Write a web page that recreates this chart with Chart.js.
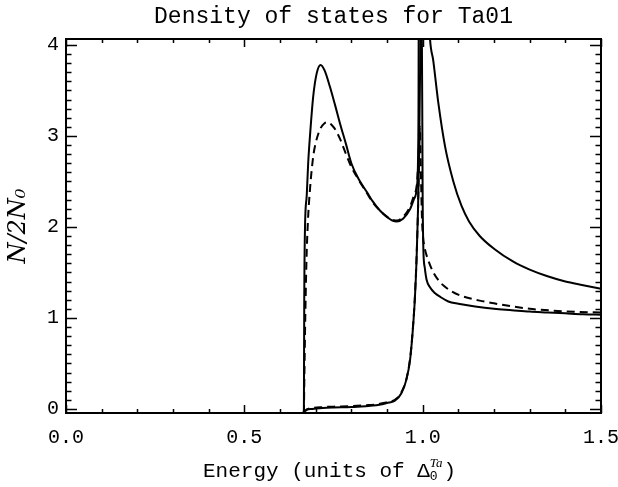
<!DOCTYPE html>
<html>
<head>
<meta charset="utf-8">
<script src="https://cdn.jsdelivr.net/npm/chart.js@4.4.1/dist/chart.umd.min.js"></script>
<style>
  html, body { margin: 0; padding: 0; background: #fff; }
  #wrap { width: 618px; height: 487px; }
</style>
</head>
<body>
<div id="wrap"><canvas id="dos" width="618" height="487"></canvas></div>
<script>
// energy in units of gap, N/2N0
const solidUpperE = [0.667, 0.668, 0.670, 0.675, 0.679, 0.685, 0.693, 0.703, 0.714, 0.725, 0.740, 0.755, 0.768, 0.785, 0.800, 0.820, 0.844, 0.860, 0.880, 0.900, 0.915, 0.928, 0.945, 0.964, 0.975, 0.984, 0.987, 0.9885, 0.989];
const solidUpperN = [-0.045, 1.2, 1.97, 2.35, 2.70, 3.05, 3.43, 3.69, 3.78, 3.72, 3.54, 3.33, 3.14, 2.91, 2.70, 2.53, 2.38, 2.28, 2.18, 2.11, 2.07, 2.06, 2.09, 2.19, 2.30, 2.45, 2.75, 3.5, 4.6];

const solidUpperRightE = [1.016, 1.020, 1.030, 1.044, 1.063, 1.086, 1.109, 1.130, 1.160, 1.200, 1.253, 1.300, 1.348, 1.400, 1.450, 1.500];
const solidUpperRightN = [4.5, 4.1, 3.82, 3.36, 2.88, 2.50, 2.23, 2.06, 1.90, 1.76, 1.62, 1.53, 1.46, 1.40, 1.36, 1.32];

const solidLowerE = [0.664, 0.675, 0.690, 0.720, 0.750, 0.800, 0.840, 0.870, 0.890, 0.905, 0.922, 0.940, 0.955, 0.965, 0.972, 0.978, 0.983, 0.987, 0.990, 0.993, 0.995, 0.997, 1.000, 1.002, 1.006, 1.011, 1.020, 1.035, 1.050, 1.072, 1.100, 1.147, 1.200, 1.250, 1.300, 1.350, 1.400, 1.450, 1.500];
const solidLowerN = [-0.045, -0.01, 0.0, 0.01, 0.015, 0.02, 0.03, 0.04, 0.055, 0.07, 0.09, 0.17, 0.33, 0.55, 0.85, 1.2, 1.65, 2.2, 2.8, 3.8, 4.6, 4.6, 2.3, 1.75, 1.55, 1.42, 1.34, 1.27, 1.23, 1.18, 1.155, 1.125, 1.10, 1.085, 1.07, 1.06, 1.05, 1.04, 1.035];

const dashedUpperE = [0.667, 0.670, 0.674, 0.678, 0.684, 0.693, 0.700, 0.712, 0.725, 0.735, 0.745, 0.755, 0.768, 0.785, 0.800, 0.820, 0.844, 0.860, 0.880, 0.900, 0.915, 0.928, 0.945, 0.964, 0.975, 0.984, 0.988, 0.991];
const dashedUpperN = [-0.045, 0.8, 1.6, 2.04, 2.41, 2.77, 2.92, 3.07, 3.14, 3.15, 3.12, 3.07, 2.97, 2.80, 2.66, 2.52, 2.37, 2.27, 2.18, 2.11, 2.08, 2.07, 2.11, 2.22, 2.34, 2.48, 2.75, 3.05];

const dashedLowerE = [0.664, 0.675, 0.690, 0.720, 0.750, 0.800, 0.840, 0.870, 0.890, 0.905, 0.922, 0.940, 0.955, 0.965, 0.972, 0.978, 0.983, 0.987, 0.990, 0.992, 0.995, 0.998, 1.001, 1.005, 1.015, 1.030, 1.043, 1.060, 1.082, 1.110, 1.160, 1.200, 1.253, 1.300, 1.365, 1.430, 1.500];
const dashedLowerN = [-0.045, -0.005, 0.01, 0.02, 0.025, 0.03, 0.04, 0.05, 0.065, 0.08, 0.10, 0.18, 0.34, 0.56, 0.86, 1.22, 1.68, 2.2, 2.8, 3.1, 2.6, 2.1, 1.89, 1.78, 1.64, 1.50, 1.42, 1.35, 1.29, 1.24, 1.19, 1.16, 1.125, 1.10, 1.08, 1.067, 1.06];

const xTickValues = [0, 0.5, 1.0, 1.5];
const xTickLabels = ["0.0", "0.5", "1.0", "1.5"];
const yTickValues = [0, 1, 2, 3, 4];
const yTickLabels = ["0", "1", "2", "3", "4"];

const pts = (xs, ys) => xs.map((e, i) => ({ x: e, y: ys[i] }));

const line = (xs, ys, dashed) => ({
  data: pts(xs, ys),
  borderColor: "#000",
  borderWidth: 2,
  borderDash: dashed ? [8, 5] : [],
  pointRadius: 0,
  cubicInterpolationMode: "monotone",
  fill: false,
  clip: 0,
});

// inward ticks on all four sides plus the box, IDL style
const frameTicks = {
  id: "frameTicks",
  afterDatasetsDraw(chart) {
    const { ctx, chartArea: a, scales: { x, y } } = chart;
    ctx.save();
    ctx.strokeStyle = "#000";
    ctx.lineWidth = 2;
    ctx.strokeRect(a.left, a.top, a.right - a.left, a.bottom - a.top);
    ctx.lineWidth = 1.5;
    ctx.beginPath();
    for (let i = 0; i <= 15; i++) {
      const px = Math.round(x.getPixelForValue(i / 10)) + 0.5;
      const len = i % 5 === 0 ? 8 : 4;
      ctx.moveTo(px, a.bottom); ctx.lineTo(px, a.bottom - len);
      ctx.moveTo(px, a.top); ctx.lineTo(px, a.top + len);
    }
    for (let i = 0; i <= 40; i++) {
      const py = Math.round(y.getPixelForValue(i / 10)) + 0.5;
      const len = i % 10 === 0 ? 11 : 5.5;
      ctx.moveTo(a.left, py); ctx.lineTo(a.left + len, py);
      ctx.moveTo(a.right, py); ctx.lineTo(a.right - len, py);
    }
    ctx.stroke();
    ctx.restore();
  },
  afterDraw(chart) {
    // x title with stacked sub/superscript on the Delta
    const { ctx, chartArea: a } = chart;
    ctx.save();
    ctx.fillStyle = "#000";
    ctx.textBaseline = "alphabetic";
    const mainFont = '21px "Liberation Mono"';
    const smallFont = '13px "Liberation Mono"';
    const supFont = 'italic 13px "Liberation Serif"';
    const mainText = "Energy (units of \u0394";
    ctx.font = mainFont;
    const wMain = ctx.measureText(mainText).width;
    const wParen = ctx.measureText(")").width;
    ctx.font = smallFont;
    const wSub = ctx.measureText("0").width;
    ctx.font = supFont;
    const wSup = ctx.measureText("Ta").width;
    const wMid = Math.max(wSub, wSup) + 1;
    const total = wMain + wMid + wParen;
    let x0 = (a.left + a.right) / 2 - total / 2 - 4;
    const base = 477;
    ctx.font = mainFont;
    ctx.fillText(mainText, x0, base);
    x0 += wMain;
    ctx.font = smallFont;
    ctx.fillText("0", x0, base + 3);
    ctx.font = supFont;
    ctx.fillText("Ta", x0, base - 10);
    x0 += wMid;
    ctx.font = mainFont;
    ctx.fillText(")", x0, base);
    ctx.restore();
  },
};

new Chart(document.getElementById("dos"), {
  type: "line",
  data: {
    datasets: [
      line(solidUpperE, solidUpperN, false),
      line(solidUpperRightE, solidUpperRightN, false),
      line(solidLowerE, solidLowerN, false),
      line(dashedUpperE, dashedUpperN, true),
      line(dashedLowerE, dashedLowerN, true),
    ],
  },
  options: {
    responsive: false,
    animation: false,
    devicePixelRatio: 1,
    events: [],
    layout: { padding: { left: 0, right: 17, top: 0, bottom: 0 } },
    plugins: {
      legend: { display: false },
      tooltip: { enabled: false },
      title: {
        display: true,
        fullSize: false,
        text: "Density of states for Ta01",
        color: "#000",
        font: { family: "Liberation Mono", size: 23, weight: "normal" },
        padding: { top: 3, bottom: 8.4 },
      },
    },
    scales: {
      x: {
        type: "linear",
        position: "bottom",
        min: 0,
        max: 1.5,
        grid: { display: false, drawTicks: false },
        border: { display: false },
        afterBuildTicks: (s) => { s.ticks = xTickValues.map((v) => ({ value: v })); },
        afterFit: (s) => { s.height = 74; s.paddingLeft = 0; s.paddingRight = 0; },
        ticks: {
          color: "#000",
          padding: 13,
          maxRotation: 0,
          font: { family: "Liberation Mono", size: 20 },
          callback: (v, i) => xTickLabels[i],
        },
      },
      y: {
        type: "linear",
        position: "left",
        min: -0.045,
        max: 4.065,
        grid: { display: false, drawTicks: false },
        border: { display: false },
        afterBuildTicks: (s) => { s.ticks = yTickValues.map((v) => ({ value: v })); },
        afterFit: (s) => { s.width = 66; s.paddingTop = 0; s.paddingBottom = 0; },
        ticks: {
          color: "#000",
          padding: 7,
          font: { family: "Liberation Mono", size: 20 },
          callback: (v, i) => yTickLabels[i],
        },
        title: {
          display: true,
          text: "N/2N\u2080",
          color: "#000",
          font: { family: "DejaVu Serif", size: 24, style: "italic" },
          padding: { top: 4, bottom: 0 },
        },
      },
    },
  },
  plugins: [frameTicks],
});
</script>
</body>
</html>
